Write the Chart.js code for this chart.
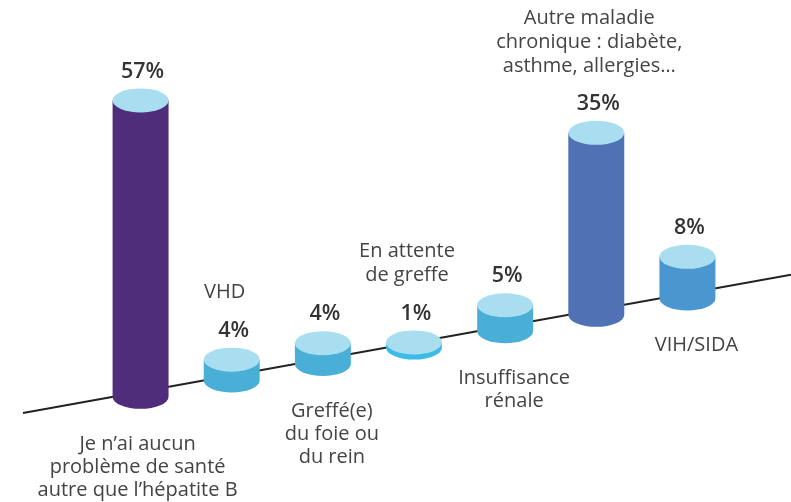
<!DOCTYPE html>
<html>
<head>
<meta charset="utf-8">
<script src="https://cdn.jsdelivr.net/npm/chart.js@4/dist/chart.umd.min.js"></script>
<style>
  body { margin: 0; background: #fff; }
  #wrap { width: 791px; height: 502px; }
</style>
</head>
<body>
<div id="wrap"><canvas id="chart"></canvas></div>
<script>
// categories (multi-line labels) and percentages
const categories = [
  ["Je n’ai aucun", "problème de santé", "autre que l’hépatite B"],
  ["VHD"],
  ["Greffé(e)", "du foie ou", "du rein"],
  ["En attente", "de greffe"],
  ["Insuffisance", "rénale"],
  ["Autre maladie", "chronique : diabète,", "asthme, allergies…"],
  ["VIH/SIDA"]
];
const values = [57, 4, 4, 1, 5, 35, 8];
const valueLabels = ["57%", "4%", "4%", "1%", "5%", "35%", "8%"];

// where the category text goes, and cylinder side colours
const labelSide = ["below", "above", "below", "above", "below", "above", "below"];
const sideColors = ["#4f2d7b", "#4aafd7", "#4aafd7", "#3dbbe8", "#4aafd7", "#5072b5", "#4a97d0"];
const topColor = "#a9def1";

// slanted floor line
function floorY(x) {
  return 413 - 0.18 * (x - 23);
}

const cylinders = {
  id: "cylinders",
  beforeDatasetsDraw(chart) {
    const ctx = chart.ctx;
    ctx.save();
    ctx.strokeStyle = "#222";
    ctx.lineWidth = 2;
    ctx.beginPath();
    ctx.moveTo(23, floorY(23));
    ctx.lineTo(791, floorY(791));
    ctx.stroke();
    ctx.restore();
  },
  afterDatasetsDraw(chart) {
    const ctx = chart.ctx;
    const yScale = chart.scales.y;
    const meta = chart.getDatasetMeta(0);
    ctx.save();
    meta.data.forEach(function (bar, i) {
      const cx = bar.x;
      const rx = bar.width / 2;
      const ry = 12;
      const h = yScale.getPixelForValue(0) - yScale.getPixelForValue(values[i]);
      const yb = floorY(cx) + 5;
      const yt = yb - h;

      // side
      ctx.fillStyle = sideColors[i];
      ctx.beginPath();
      ctx.moveTo(cx - rx, yt);
      ctx.lineTo(cx - rx, yb);
      ctx.ellipse(cx, yb, rx, ry, 0, Math.PI, 0, true);
      ctx.lineTo(cx + rx, yt);
      ctx.closePath();
      ctx.fill();

      // top
      ctx.fillStyle = topColor;
      ctx.beginPath();
      ctx.ellipse(cx, yt, rx, ry, 0, 0, Math.PI * 2);
      ctx.fill();

      // value label
      const pctY = yt - ry - 17;
      ctx.fillStyle = "#333";
      ctx.textAlign = "center";
      ctx.textBaseline = "middle";
      ctx.font = "600 21.5px 'Open Sans'";
      ctx.fillText(valueLabels[i], cx + 2, pctY);

      // category label
      const lines = categories[i];
      ctx.fillStyle = "#444";
      ctx.font = "20px 'Open Sans'";
      if (labelSide[i] === "above") {
        const lastY = pctY - 38;
        lines.forEach(function (line, k) {
          ctx.fillText(line, cx - 7, lastY - (lines.length - 1 - k) * 24);
        });
      } else {
        const firstY = floorY(cx) + 52;
        lines.forEach(function (line, k) {
          ctx.fillText(line, cx + (i === 0 ? -3 : 9), firstY + k * 23);
        });
      }
    });
    ctx.restore();
  }
};

const ctx = document.getElementById("chart").getContext("2d");
new Chart(ctx, {
  type: "bar",
  data: {
    labels: categories,
    datasets: [{
      data: values,
      backgroundColor: "rgba(0,0,0,0)",
      borderWidth: 0,
      categoryPercentage: 1,
      barPercentage: 0.614
    }]
  },
  options: {
    responsive: true,
    maintainAspectRatio: false,
    animation: false,
    layout: { padding: { left: 95, right: 58, top: 20, bottom: 66 } },
    plugins: { legend: { display: false }, tooltip: { enabled: false } },
    scales: {
      x: { display: false },
      y: { display: false, min: 0, max: 80 }
    }
  },
  plugins: [cylinders]
});
</script>
</body>
</html>
